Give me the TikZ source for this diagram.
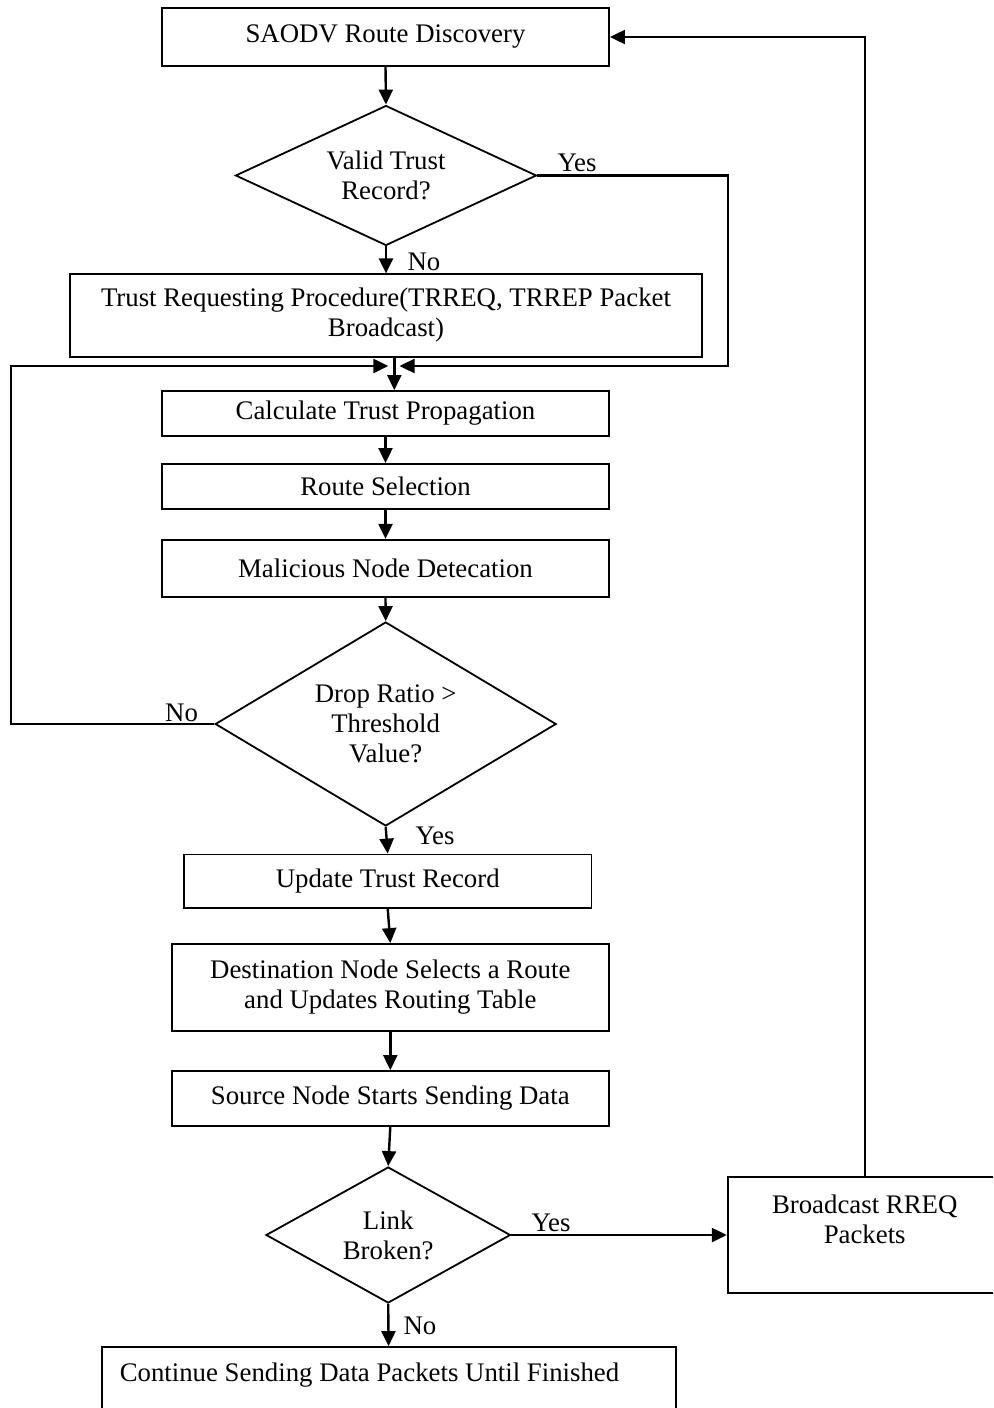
\documentclass[tikz,border=0pt]{standalone}
\usepackage{fontspec}
\setmainfont{Liberation Serif}
\usetikzlibrary{arrows.meta,shapes.geometric}
\begin{document}
\begin{tikzpicture}[x=0.5pt,y=-0.5pt,
  every node/.style={font=\fontsize{13.4pt}{15pt}\selectfont, inner sep=0pt},
  box/.style={draw, line width=0.9pt, rectangle, align=center},
  dec/.style={draw, line width=0.9pt, diamond, align=center},
  arr/.style={line width=1.2pt, -{Triangle[length=7.5pt,width=7pt]}},
  lbl/.style={anchor=base}]
\useasboundingbox (0,0) rectangle (993,1408);
\clip (0,0) rectangle (993,1408);

% main column
\node[box, minimum width=223.5pt, minimum height=29pt] (b1) at (385.5,37) {SAODV Route Discovery};
\node[dec, aspect=2.15, minimum width=150.5pt, minimum height=70pt] (d1) at (386,175.5) {Valid Trust\\Record?};
\node[box, minimum width=316pt, minimum height=41.2pt] (b2) at (386,315.5) {Trust Requesting Procedure(TRREQ, TRREP Packet\\Broadcast)};
\node[box, minimum width=223.5pt, minimum height=22.5pt] (b3) at (385.5,413.5) {Calculate Trust Propagation};
\node[box, minimum width=223.5pt, minimum height=22.4pt] (b4) at (385.5,486.3) {Route Selection};
\node[box, minimum width=223.5pt, minimum height=28.5pt] (b5) at (385.5,568.2) {Malicious Node Detecation};
\node[dec, aspect=1.67, minimum width=170.5pt, minimum height=102pt] (d2) at (385.7,724) {Drop Ratio >\\Threshold\\Value?};
\node[box, minimum width=203.75pt, minimum height=26.75pt] (b6) at (387.75,881.25) {Update Trust Record};
\node[box, minimum width=218.3pt, minimum height=43.5pt] (b7) at (390.3,987.5) {Destination Node Selects a Route\\and Updates Routing Table};
\node[box, minimum width=218.3pt, minimum height=27.4pt] (b8) at (390.3,1098.4) {Source Node Starts Sending Data};
\node[dec, aspect=1.8, minimum width=122.25pt, minimum height=68pt] (d3) at (388.2,1235) {Link\\Broken?};

% side box and final box
\node[box, minimum width=137pt, minimum height=58pt] (b9) at (864.7,1235) {};
\node[align=center] (b9t) at (864.7,1219) {Broadcast RREQ\\Packets};
\node[box, minimum width=287pt, minimum height=45pt] (b10) at (388.6,1392) {};
\node[lbl] (b10t) at (369.5,1381.7) {Continue Sending Data Packets Until Finished};

% junction above the trust propagation step
\coordinate (jv) at (394.3,366);
\coordinate (jl) at (388.3,366);
\coordinate (jr) at (399.5,366);
\coordinate (yc) at (728,366);
\coordinate (nc) at (11,366);

% connectors
\draw[arr] (b1.south) -- (d1.north);
\draw[arr] (d1.south) -- (b2.north);
\draw[arr] (d1.east) -| (yc) -- (jr);
\draw[arr] (b2.south -| jv) -- (b3.north -| jv);
\draw[arr] (d2.west) -| (nc) -- (jl);
\draw[arr] (b3.south) -- (b4.north);
\draw[arr] (b4.south) -- (b5.north);
\draw[arr] (b5.south) -- (d2.north);
\draw[arr] (d2.south) -- (b6.north);
\draw[arr] (b6.south) -- (b7.north);
\draw[arr] (b7.south) -- (b8.north);
\draw[arr] (b8.south) -- (d3.north);
\draw[arr] (d3.east) -- (b9.west);
\draw[arr, line width=1pt] (b9.north) |- (b1.east);
\draw[arr] (d3.south) -- (b10.north);

% branch labels
\node[lbl] (yes1) at (577,171.7) {Yes};
\node[lbl] (no1) at (424,270.7) {No};
\node[lbl] (no2) at (181.6,721.7) {No};
\node[lbl] (yes2) at (435,844) {Yes};
\node[lbl] (yes3) at (551,1231) {Yes};
\node[lbl] (no3) at (420,1334) {No};
\end{tikzpicture}
\end{document}
